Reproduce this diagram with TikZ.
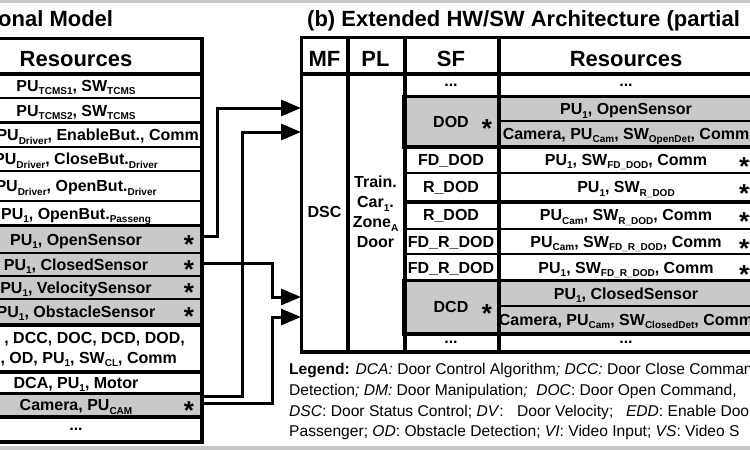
\documentclass[tikz,border=0pt]{standalone}
\usepackage{fontspec}
\setmainfont{Liberation Sans}
\usetikzlibrary{arrows.meta}

\newcommand{\lowtxt}[1]{\raisebox{-3.5pt}{\fontsize{10}{10}\selectfont #1}}
\newcommand{\rowstar}[1]{\raisebox{-14.4pt}[5pt][5pt]{#1}}

\tikzset{
  cell/.style={draw, line width=2pt, inner sep=0pt, anchor=north west},
  shade/.style={fill=black!21},
  heavy/.style={line width=3pt},
  rowtext/.style={inner sep=0pt, text height=11.5pt, text depth=0pt,
    font=\fontsize{16}{20}\selectfont\bfseries},
  headtext/.style={inner sep=0pt, text height=15.8pt, text depth=0pt,
    font=\fontsize{22}{26}\selectfont\bfseries},
  startext/.style={inner sep=0pt, font=\fontsize{26}{26}\selectfont\bfseries},
  legtext/.style={inner sep=0pt, anchor=base west,
    font=\fontsize{15.6}{20}\selectfont},
  wire/.style={line width=3pt, -{Triangle[length=20pt,width=16pt]}},
}

\begin{document}
\begin{tikzpicture}[x=1pt,y=-1pt]
  \useasboundingbox (0,0) rectangle (750,450);
  \clip (0,0) rectangle (750,450);
  \fill[black!22] (0,0) rectangle (750,2.5);
  \fill[black!22] (0,446) rectangle (750,450);

  % left table
  \node[headtext, anchor=west] (ltitle) at (-2,19) {onal Model};
  \node[cell, minimum width=250pt, minimum height=34pt] (lres) at (-50,38) {};
  \node[cell, minimum width=250pt, minimum height=25pt] (tcmsa) at (-50,72) {};
  \node[cell, minimum width=250pt, minimum height=25pt] (tcmsb) at (-50,97) {};
  \node[cell, minimum width=250pt, minimum height=24pt] (enab) at (-50,122) {};
  \node[cell, minimum width=250pt, minimum height=24pt] (closeb) at (-50,146) {};
  \node[cell, minimum width=250pt, minimum height=30pt] (openb) at (-50,170) {};
  \node[cell, minimum width=250pt, minimum height=25pt] (passb) at (-50,200) {};
  \node[cell, shade, minimum width=250pt, minimum height=27pt] (opensens) at (-50,225) {};
  \node[cell, shade, minimum width=250pt, minimum height=23pt] (closedsens) at (-50,252) {};
  \node[cell, shade, minimum width=250pt, minimum height=23pt] (velsens) at (-50,275) {};
  \node[cell, shade, minimum width=250pt, minimum height=25pt] (obstsens) at (-50,298) {};
  \node[cell, minimum width=250pt, minimum height=47pt] (clrow) at (-50,323) {};
  \node[cell, minimum width=250pt, minimum height=23pt] (motor) at (-50,370) {};
  \node[cell, shade, minimum width=250pt, minimum height=22pt] (camrow) at (-50,393) {};
  \node[cell, minimum width=250pt, minimum height=25pt] (lmore) at (-50,415) {};

  \node[headtext] (lrest) at ([yshift=-3pt]lres) {Resources};
  \node[rowtext] (tcmsat) at (tcmsa) {PU\lowtxt{TCMS1}, SW\lowtxt{TCMS}};
  \node[rowtext] (tcmsbt) at (tcmsb) {PU\lowtxt{TCMS2}, SW\lowtxt{TCMS}};
  \node[rowtext, anchor=east] (enabt) at ([xshift=-3pt]enab.east) {PU\lowtxt{Driver}, EnableBut., Comm};
  \node[rowtext] (closebt) at (closeb) {PU\lowtxt{Driver}, CloseBut.\lowtxt{Driver}};
  \node[rowtext] (openbt) at (openb) {PU\lowtxt{Driver}, OpenBut.\lowtxt{Driver}};
  \node[rowtext] (passbt) at (passb) {PU\lowtxt{1}, OpenBut.\lowtxt{Passeng}};
  \node[rowtext] (opensenst) at (opensens) {PU\lowtxt{1}, OpenSensor};
  \node[rowtext] (closedsenst) at (closedsens) {PU\lowtxt{1}, ClosedSensor};
  \node[rowtext] (velsenst) at (velsens) {PU\lowtxt{1}, VelocitySensor};
  \node[rowtext] (obstsenst) at (obstsens) {PU\lowtxt{1}, ObstacleSensor};
  \node[rowtext, anchor=east] (clrowa) at ([xshift=-17pt,yshift=10pt]clrow.east) {, DCC, DOC, DCD, DOD,};
  \node[rowtext, anchor=east] (clrowb) at ([xshift=-25pt,yshift=-10pt]clrow.east) {, OD, PU\lowtxt{1}, SW\lowtxt{CL}, Comm};
  \node[rowtext] (motort) at (motor) {DCA, PU\lowtxt{1}, Motor};
  \node[rowtext] (camrowt) at (camrow) {Camera, PU\lowtxt{CAM}};
  \node[rowtext, anchor=base] (lmoret) at ([yshift=-1.5pt]lmore) {...};

  \node[startext] (lstara) at ([xshift=-13pt]opensens.east) {\rowstar{*}};
  \node[startext] (lstarb) at ([xshift=-13pt]closedsens.east) {\rowstar{*}};
  \node[startext] (lstarc) at ([xshift=-13pt]velsens.east) {\rowstar{*}};
  \node[startext] (lstard) at ([xshift=-13pt]obstsens.east) {\rowstar{*}};
  \node[startext] (lstare) at ([xshift=-13pt]camrow.east) {\rowstar{*}};

  \draw[heavy] (lres.north west) rectangle (lmore.south east);
  \draw[heavy] (lres.south west) -- (lres.south east);
  \draw[heavy] (enab.north west) -- (enab.north east);
  \draw[heavy] (opensens.north west) rectangle (obstsens.south east);
  \draw[heavy] (clrow.south west) -- (clrow.south east);
  \draw[heavy] (camrow.north west) rectangle (camrow.south east);

  % right table
  \node[headtext, anchor=west] (rtitle) at (307,19) {(b) Extended HW/SW Architecture (partial};
  \node[cell, minimum width=45pt, minimum height=35pt] (mfhead) at (301,37) {};
  \node[cell, minimum width=57pt, minimum height=35pt] (plhead) at (346,37) {};
  \node[cell, minimum width=94pt, minimum height=35pt] (sfhead) at (403,37) {};
  \node[cell, minimum width=256pt, minimum height=35pt] (reshead) at (497,37) {};
  \node[headtext] (mft) at ([yshift=-3pt]mfhead) {MF};
  \node[headtext] (plt) at ([yshift=-3pt]plhead) {PL};
  \node[headtext] (sft) at ([yshift=-3pt]sfhead) {SF};
  \node[headtext] (rest) at ([yshift=-3pt]reshead) {Resources};

  \node[cell, minimum width=45pt, minimum height=278pt] (dsc) at (301,72) {};
  \node[rowtext] (dsct) at (dsc) {DSC};
  \node[cell, minimum width=57pt, minimum height=278pt] (plcell) at (346,72) {};
  \node[inner sep=0pt, align=center, font=\fontsize{16}{20}\selectfont\bfseries] (plcellt) at (plcell)
    {Train.\\Car\lowtxt{1}.\\Zone\lowtxt{A}\\Door};

  \node[cell, minimum width=94pt, minimum height=24pt] (sfmore) at (403,72) {};
  \node[cell, shade, minimum width=94pt, minimum height=49pt] (dod) at (403,96) {};
  \node[cell, minimum width=94pt, minimum height=27pt] (fddod) at (403,145) {};
  \node[cell, minimum width=94pt, minimum height=28pt] (rdoda) at (403,172) {};
  \node[cell, minimum width=94pt, minimum height=28pt] (rdodb) at (403,200) {};
  \node[cell, minimum width=94pt, minimum height=25pt] (fdrdoda) at (403,228) {};
  \node[cell, minimum width=94pt, minimum height=27pt] (fdrdodb) at (403,253) {};
  \node[cell, shade, minimum width=94pt, minimum height=52pt] (dcd) at (403,280) {};
  \node[cell, minimum width=94pt, minimum height=18pt] (sfend) at (403,332) {};

  \node[rowtext, anchor=base] (sfmoret) at ([yshift=-1.5pt]sfmore) {...};
  \node[rowtext] (dodt) at (dod) {DOD};
  \node[rowtext] (fddodt) at (fddod) {FD\_DOD};
  \node[rowtext] (rdodat) at (rdoda) {R\_DOD};
  \node[rowtext] (rdodbt) at (rdodb) {R\_DOD};
  \node[rowtext] (fdrdodat) at (fdrdoda) {FD\_R\_DOD};
  \node[rowtext] (fdrdodbt) at (fdrdodb) {FD\_R\_DOD};
  \node[rowtext] (dcdt) at (dcd) {DCD};
  \node[rowtext, anchor=base] (sfendt) at ([yshift=-1.5pt]sfend) {...};
  \node[startext] (dodstar) at ([xshift=-12pt,yshift=-1.5pt]dod.east) {\rowstar{*}};
  \node[startext] (dcdstar) at ([xshift=-12pt,yshift=-1.5pt]dcd.east) {\rowstar{*}};

  \node[cell, minimum width=256pt, minimum height=24pt] (resmore) at (497,72) {};
  \node[cell, shade, minimum width=256pt, minimum height=24pt] (rosens) at (497,96) {};
  \node[cell, shade, minimum width=256pt, minimum height=25pt] (rocam) at (497,120) {};
  \node[cell, minimum width=256pt, minimum height=27pt] (rfd) at (497,145) {};
  \node[cell, minimum width=256pt, minimum height=28pt] (rr) at (497,172) {};
  \node[cell, minimum width=256pt, minimum height=28pt] (rrcam) at (497,200) {};
  \node[cell, minimum width=256pt, minimum height=25pt] (rfdrcam) at (497,228) {};
  \node[cell, minimum width=256pt, minimum height=27pt] (rfdr) at (497,253) {};
  \node[cell, shade, minimum width=256pt, minimum height=25pt] (rcsens) at (497,280) {};
  \node[cell, shade, minimum width=256pt, minimum height=27pt] (rccam) at (497,305) {};
  \node[cell, minimum width=256pt, minimum height=18pt] (resend) at (497,332) {};

  \node[rowtext, anchor=base] (resmoret) at ([yshift=-1.5pt]resmore) {...};
  \node[rowtext] (rosenst) at (rosens) {PU\lowtxt{1}, OpenSensor};
  \node[rowtext] (rocamt) at (rocam) {Camera, PU\lowtxt{Cam}, SW\lowtxt{OpenDet}, Comm};
  \node[rowtext] (rfdt) at (rfd) {PU\lowtxt{1}, SW\lowtxt{FD\_DOD}, Comm};
  \node[rowtext] (rrt) at (rr) {PU\lowtxt{1}, SW\lowtxt{R\_DOD}};
  \node[rowtext] (rrcamt) at (rrcam) {PU\lowtxt{Cam}, SW\lowtxt{R\_DOD}, Comm};
  \node[rowtext] (rfdrcamt) at (rfdrcam) {PU\lowtxt{Cam}, SW\lowtxt{FD\_R\_DOD}, Comm};
  \node[rowtext] (rfdrt) at (rfdr) {PU\lowtxt{1}, SW\lowtxt{FD\_R\_DOD}, Comm};
  \node[rowtext] (rcsenst) at (rcsens) {PU\lowtxt{1}, ClosedSensor};
  \node[rowtext] (rccamt) at (rccam) {Camera, PU\lowtxt{Cam}, SW\lowtxt{ClosedDet}, Comm};
  \node[rowtext, anchor=base] (resendt) at ([yshift=-1.5pt]resend) {...};

  \node[startext, anchor=west] (rstara) at ([xshift=-16pt,yshift=-1.5pt]rfd.east) {\rowstar{**}};
  \node[startext, anchor=west] (rstarb) at ([xshift=-16pt,yshift=-1.5pt]rr.east) {\rowstar{**}};
  \node[startext, anchor=west] (rstarc) at ([xshift=-16pt,yshift=-1.5pt]rrcam.east) {\rowstar{**}};
  \node[startext, anchor=west] (rstard) at ([xshift=-16pt,yshift=-1.5pt]rfdrcam.east) {\rowstar{**}};
  \node[startext, anchor=west] (rstare) at ([xshift=-16pt,yshift=-1.5pt]rfdr.east) {\rowstar{**}};

  \draw[heavy] (mfhead.north west) rectangle (resend.south east);
  \draw[heavy] (mfhead.south west) -- (reshead.south east);
  \draw[heavy] (mfhead.north east) -- (dsc.south east);
  \draw[heavy] (plhead.north east) -- (plcell.south east);
  \draw[heavy] (sfhead.north east) -- (sfend.south east);
  \draw[heavy] (dod.north west) rectangle (rocam.south east);
  \draw[heavy] (rdoda.south west) -- (rr.south east);
  \draw[heavy] (dcd.north west) rectangle (rccam.south east);

  % links into DSC
  \draw[wire] ([yshift=3.5pt]opensens.east) -- ++(15,0) |- ([yshift=-36pt]dsc.north west);
  \draw[wire] ([yshift=9pt]camrow.east) -- ++(40,0) |- ([yshift=-60pt]dsc.north west);
  \draw[wire] ([yshift=1.5pt]closedsens.east) -- ++(70,0) |- ([yshift=-225pt]dsc.north west);
  \draw[wire] ([yshift=2pt]camrow.east) -- ++(70,0) |- ([yshift=-245pt]dsc.north west);

  % legend
  \node[legtext] (lega) at (289,374) {\textbf{Legend:} \textit{DCA:} Door Control Algorithm\textit{;} \textit{DCC:} Door Close Command;};
  \node[legtext] (legb) at (289,395) {Detection\textit{;} \textit{DM:} Door Manipulation\textit{;}\ \ \textit{DOC}: Door Open Command,};
  \node[legtext] (legc) at (289,416) {\textit{DSC}: Door Status Control; \textit{DV}:\hspace{9pt} Door Velocity;\ \ \hspace{4pt}\textit{EDD}: Enable Door};
  \node[legtext] (legd) at (289,436) {Passenger; \textit{OD}: Obstacle Detection; \textit{VI}: Video Input; \textit{VS}: Video S};
\end{tikzpicture}
\end{document}
